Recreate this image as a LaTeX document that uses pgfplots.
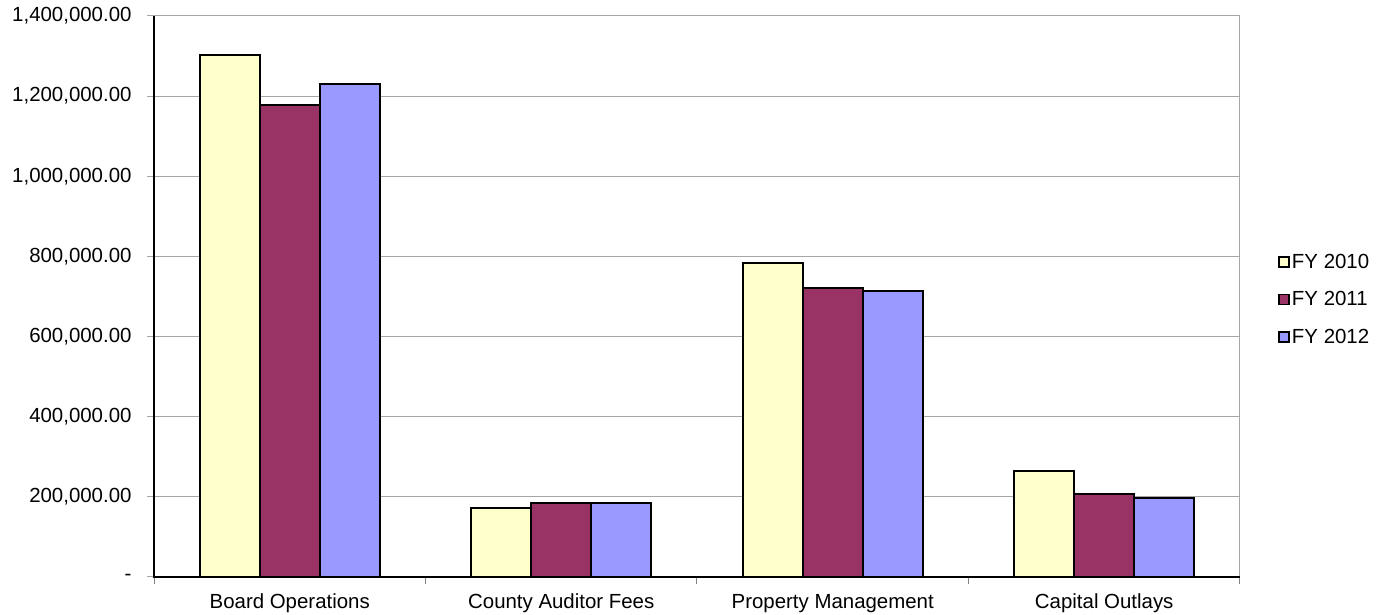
\documentclass[border=0pt]{standalone}
\usepackage{pgfplots}
\pgfplotsset{compat=1.18}
\usepackage{fontspec}
\setmainfont{Liberation Sans}
\definecolor{c10}{HTML}{FFFFCC}
\definecolor{c11}{HTML}{993366}
\definecolor{c12}{HTML}{9999FF}
\definecolor{gridg}{HTML}{A6A6A6}
\begin{document}
\begin{tikzpicture}[x=1bp,y=1bp]
\useasboundingbox (0,0) rectangle (1385,615);
\begin{axis}[
  at={(154bp,38bp)}, anchor=south west,
  scale only axis, width=1086bp, height=561bp,
  ybar=0pt, bar width=60bp,
  xmin=-0.5, xmax=3.5, ymin=0, ymax=1400000,
  xtick={0,1,2,3},
  xticklabels={Board Operations, County Auditor Fees, Property Management, Capital Outlays},
  major x tick style={draw=none},
  minor xtick={-0.5,0.5,1.5,2.5,3.5},
  minor x tick style={draw=gray, line width=1bp},
  minor tick length=7bp,
  tick align=outside,
  ytick pos=left, xtick pos=bottom,
  ytick={0,200000,400000,600000,800000,1000000,1200000,1400000},
  yticklabels={{-\hspace{13bp}},{200,000.00},{400,000.00},{600,000.00},{800,000.00},{1,000,000.00},{1,200,000.00},{1,400,000.00}},
  scaled y ticks=false,
  ymajorgrids, grid style={draw=gridg, line width=1bp},
  y tick style={draw=gridg, line width=1bp},
  major tick length=7bp,
  tick label style={font=\fontsize{20.5}{23}\selectfont},
  xticklabel style={font=\fontsize{20.5}{23}\selectfont, text height=15bp, text depth=5bp, yshift=-6bp},
  yticklabel style={xshift=-12bp},
  axis line style={draw=gridg, line width=1bp},
  legend style={at={(1.035,0.5)}, anchor=west, yshift=-3bp, draw=none, fill=none,
    font=\fontsize{20.5}{23}\selectfont, row sep=17.5bp, inner sep=0pt,
    legend cell align=left},
  legend image code/.code={\draw[#1, line width=1.8bp, draw=black] (0bp,-5bp) rectangle (10bp,5bp);},
  every axis plot/.append style={draw=black, line width=2bp},
  clip=false,
]
\addplot[fill=c10] coordinates {(0,1302000) (1,171700) (2,782500) (3,265700)};
\addplot[fill=c11] coordinates {(0,1178000) (1,185000) (2,721700) (3,207500)};
\addplot[fill=c12] coordinates {(0,1230000) (1,185000) (2,714000) (3,197000)};
\legend{FY 2010, FY 2011, FY 2012}
\draw[black, line width=1.5bp] (rel axis cs:0,1) -- (rel axis cs:0,0) -- (rel axis cs:1,0);
\end{axis}
\end{tikzpicture}
\end{document}
